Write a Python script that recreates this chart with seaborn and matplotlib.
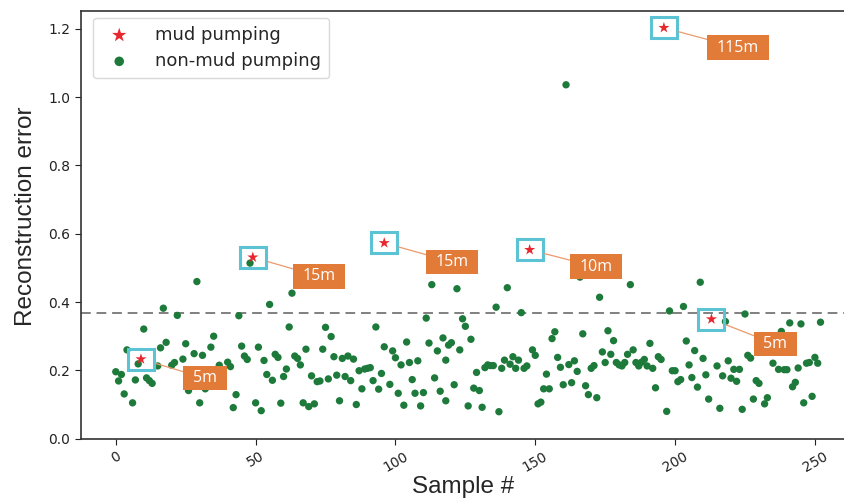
import matplotlib
matplotlib.use("Agg")
import matplotlib.pyplot as plt
import seaborn as sns
import pandas as pd
from matplotlib.patches import Rectangle

# ---------------- data ----------------
nonmud_sample = [0, 1, 2, 3, 4, 6, 7, 8, 10, 11, 12, 13, 15, 16, 17, 18, 20, 21, 22, 24,
                 25, 26, 28, 29, 30, 31, 32, 34, 35, 37, 40, 41, 42, 43, 44, 45, 46, 47, 48, 50,
                 51, 52, 53, 54, 55, 56, 57, 58, 59, 60, 61, 62, 63, 64, 65, 66, 67, 68, 69, 70,
                 71, 72, 73, 74, 75, 76, 77, 78, 79, 80, 81, 82, 83, 84, 85, 86, 87, 88, 89, 90,
                 91, 92, 93, 94, 95, 96, 98, 99, 100, 101, 102, 103, 104, 105, 106, 107, 108, 109, 110, 111,
                 112, 113, 114, 115, 116, 117, 118, 118, 119, 120, 121, 122, 123, 124, 125, 126, 127, 128, 129, 130,
                 131, 132, 133, 134, 135, 136, 137, 138, 139, 140, 141, 142, 143, 144, 145, 146, 147, 149, 150, 151,
                 152, 153, 154, 155, 156, 157, 158, 159, 160, 161, 162, 163, 164, 165, 166, 167, 168, 169, 170, 171,
                 172, 173, 174, 175, 176, 177, 178, 179, 180, 181, 182, 183, 184, 185, 186, 187, 188, 189, 190, 191,
                 192, 193, 194, 195, 197, 198, 199, 200, 201, 202, 203, 204, 205, 206, 207, 208, 209, 210, 211, 212,
                 215, 216, 217, 218, 219, 220, 221, 222, 223, 224, 225, 226, 227, 228, 229, 230, 232, 233, 235, 237,
                 238, 239, 240, 241, 242, 243, 244, 245, 246, 247, 248, 249, 250, 251, 252]
nonmud_error = [0.196, 0.169, 0.188, 0.131, 0.260, 0.105, 0.172, 0.219, 0.321, 0.178, 0.170, 0.162, 0.213, 0.266, 0.382, 0.282, 0.215, 0.223, 0.361, 0.233,
                0.278, 0.141, 0.249, 0.460, 0.105, 0.244, 0.146, 0.268, 0.300, 0.215, 0.224, 0.211, 0.091, 0.129, 0.360, 0.271, 0.242, 0.232, 0.514, 0.105,
                0.268, 0.082, 0.229, 0.188, 0.393, 0.171, 0.247, 0.238, 0.104, 0.182, 0.204, 0.327, 0.426, 0.242, 0.235, 0.216, 0.105, 0.262, 0.094, 0.184,
                0.102, 0.167, 0.169, 0.262, 0.326, 0.175, 0.299, 0.240, 0.186, 0.111, 0.235, 0.182, 0.242, 0.170, 0.233, 0.100, 0.199, 0.146, 0.204, 0.206,
                0.208, 0.170, 0.327, 0.145, 0.191, 0.269, 0.159, 0.257, 0.237, 0.133, 0.216, 0.098, 0.283, 0.223, 0.173, 0.133, 0.228, 0.096, 0.135, 0.353,
                0.280, 0.451, 0.178, 0.257, 0.139, 0.295, 0.230, 0.111, 0.274, 0.281, 0.158, 0.439, 0.260, 0.351, 0.329, 0.096, 0.291, 0.148, 0.194, 0.141,
                0.092, 0.208, 0.216, 0.214, 0.214, 0.385, 0.079, 0.206, 0.230, 0.442, 0.218, 0.240, 0.206, 0.230, 0.369, 0.206, 0.213, 0.260, 0.244, 0.102,
                0.107, 0.146, 0.189, 0.146, 0.293, 0.313, 0.238, 0.209, 0.158, 1.036, 0.217, 0.164, 0.228, 0.197, 0.473, 0.307, 0.155, 0.129, 0.206, 0.214,
                0.120, 0.414, 0.254, 0.223, 0.316, 0.247, 0.287, 0.223, 0.216, 0.213, 0.223, 0.247, 0.451, 0.260, 0.223, 0.213, 0.224, 0.232, 0.213, 0.279,
                0.206, 0.149, 0.240, 0.232, 0.080, 0.374, 0.199, 0.199, 0.167, 0.173, 0.387, 0.286, 0.216, 0.179, 0.258, 0.151, 0.458, 0.235, 0.187, 0.116,
                0.213, 0.089, 0.184, 0.343, 0.228, 0.177, 0.203, 0.168, 0.203, 0.086, 0.365, 0.244, 0.236, 0.116, 0.170, 0.162, 0.102, 0.120, 0.221, 0.203,
                0.314, 0.202, 0.202, 0.339, 0.152, 0.165, 0.207, 0.336, 0.105, 0.221, 0.223, 0.124, 0.238, 0.221, 0.341]

mud_sample = [9, 49, 96, 148, 196, 213]
mud_error = [0.233, 0.531, 0.573, 0.553, 1.203, 0.350]
mud_depth = ["5m", "15m", "15m", "10m", "115m", "5m"]

threshold = 0.367

# label offsets in pixels (label centre relative to the star)
label_dx = [64, 66, 68, 66, 74, 64]
label_dy = [-19, -19, -19, -17, -20, -25]

# ---------------- style ----------------
sns.set_style("ticks")
plt.rcParams["font.family"] = ["DejaVu Sans"]

green = "#1d7a3a"
red = "#e8262d"
cyan = "#5bc3d3"
orange = "#e27a38"

fig = plt.figure(figsize=(8.45, 4.99), dpi=100)
ax = fig.add_axes([80.7 / 845, 60.3 / 499, (852.8 - 80.7) / 845, 427.7 / 499])

df_mud = pd.DataFrame({"sample": mud_sample, "error": mud_error})
df_non = pd.DataFrame({"sample": nonmud_sample, "error": nonmud_error})

sns.scatterplot(data=df_mud, x="sample", y="error", marker="*", color=red, s=70,
                edgecolor="none", linewidth=0, label="mud pumping", ax=ax, zorder=4)
sns.scatterplot(data=df_non, x="sample", y="error", marker="o", color=green, s=28,
                edgecolor="none", linewidth=0, label="non-mud pumping", ax=ax, zorder=3)

ax.axhline(threshold, color="#808080", linestyle=(0, (5, 3)), linewidth=1.4, zorder=2)

ax.set_xlim(-12.55, 263.55)
ax.set_ylim(0, 1.252)

# boxes around stars and depth labels
box_w = 26 / 2.797
box_h = 21 / 341.5
for sx, sy, lab, dx, dy in zip(mud_sample, mud_error, mud_depth, label_dx, label_dy):
    ax.add_patch(Rectangle((sx - box_w / 2, sy - box_h / 2), box_w, box_h,
                           fill=False, edgecolor=cyan, linewidth=2.2, zorder=5))
    ax.annotate(lab, xy=(sx, sy), xytext=(dx, dy), textcoords="offset pixels",
                ha="center", va="center", color="white", fontsize=11.5,
                family=["Open Sans", "DejaVu Sans"],
                bbox=dict(boxstyle="square,pad=0.6", mutation_aspect=0.45,
                          fc=orange, ec="none"),
                arrowprops=dict(arrowstyle="-", color="#eb9a6c", lw=0.9,
                                shrinkA=0, shrinkB=11),
                zorder=6)

ax.set_xticks([0, 50, 100, 150, 200, 250])
ax.set_yticks([0.0, 0.2, 0.4, 0.6, 0.8, 1.0, 1.2])
ax.set_yticklabels(["0.0", "0.2", "0.4", "0.6", "0.8", "1.0", "1.2"])
ax.tick_params(axis="x", labelsize=10, rotation=30, colors="#222222", length=4)
ax.tick_params(axis="y", labelsize=10, colors="#222222", length=4)
for lbl in ax.get_xticklabels():
    lbl.set_ha("center")

ax.set_xlabel("Sample #", fontsize=17.5, family=["Liberation Sans", "DejaVu Sans"])
ax.set_ylabel("Reconstruction error", fontsize=17.5, family=["Liberation Sans", "DejaVu Sans"])
ax.xaxis.set_label_coords(0.495, -0.088)
ax.yaxis.set_label_coords(-0.056, 0.52)

for sp in ax.spines.values():
    sp.set_color("#333333")
    sp.set_linewidth(1.2)

leg = ax.legend(loc="upper left", fontsize=13, frameon=True, markerscale=1.3,
                handletextpad=1.0, borderpad=0.45, labelspacing=0.45,
                borderaxespad=0, bbox_to_anchor=(0.016, 0.984))
leg.get_frame().set_edgecolor("#d0d0d0")

fig.savefig("out.png", dpi=100)
